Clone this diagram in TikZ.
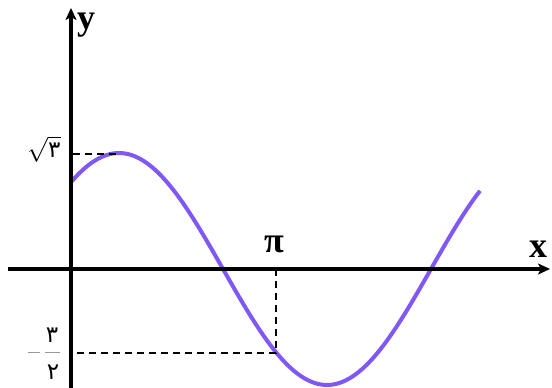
\documentclass[tikz,border=0pt]{standalone}
\usepackage{fontspec}
\setmainfont{Liberation Serif}
\newfontfamily\pfont[Script=Arabic]{DejaVu Sans}
\usetikzlibrary{arrows.meta}
\definecolor{curvecol}{RGB}{128,88,245}
\tikzset{
  axisline/.style={line width=4pt,-{Stealth[length=12pt,width=11pt,inset=3pt]}},
  guide/.style={line width=2.8pt,dash pattern=on 7pt off 5pt},
  curveline/.style={line width=4pt,curvecol},
  axlabel/.style={font=\fontsize{36}{36}\selectfont\bfseries,inner sep=0pt,anchor=base,text height=17pt,text depth=8pt},
  digit/.style={font=\fontsize{23}{23}\pfont,inner sep=0pt}
}
\begin{document}
\begin{tikzpicture}[x=1pt,y=1pt]
\useasboundingbox (0,0) rectangle (552,388);
% curve
\draw[curveline,domain=71:480,samples=120,smooth]
  plot (\x,{119-116*sin(0.86538*(\x-223))});
% guides
\coordinate (pmax) at (120,234);
\coordinate (ymax) at (73,234);
\coordinate (pi) at (276,119);
\coordinate (pmin) at (276,35);
\coordinate (ymin) at (73,35);
\draw[guide] (ymax) -- (pmax);
\draw[guide] (pi) -- (pmin) -- (ymin);
% axes
\coordinate (xs) at (8,119);
\coordinate (xe) at (550,119);
\coordinate (ys) at (71,0);
\coordinate (ye) at (71,380);
\draw[axisline] (xs) -- (xe);
\draw[axisline] (ys) -- (ye);
% labels
\node[axlabel] (ylab) at (86,358) {y};
\node[axlabel] (xlab) at (538,130) {x};
\node[axlabel] (pilab) at (274,135) {π};
\node[inner sep=0pt,font=\fontsize{24}{24}\selectfont] (sq) at (44,239) {$\sqrt{\hbox{\fontsize{23}{23}\pfont ۳}}$};
\draw[line width=1pt,gray!80] (28,35) -- (40,35);
\draw[line width=1pt,gray!80] (45,35) -- (60,35);
\node[digit] (num) at (52,53) {۳};
\node[digit] (den) at (53,16) {۲};
\end{tikzpicture}
\end{document}
